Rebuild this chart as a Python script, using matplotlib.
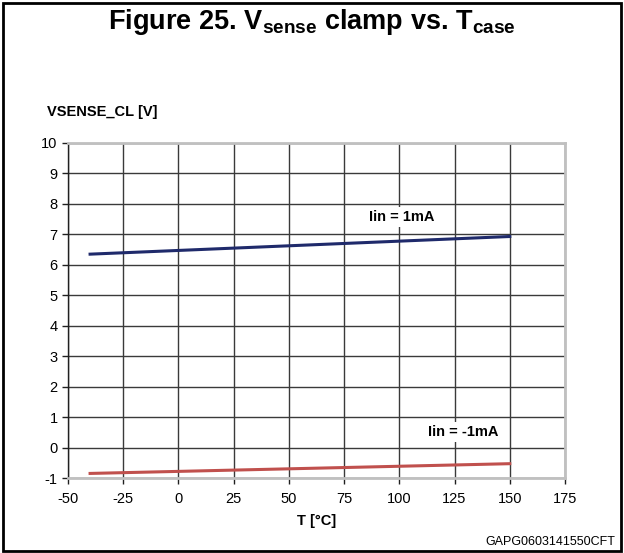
import matplotlib
matplotlib.use("Agg")
import matplotlib.pyplot as plt
from matplotlib.patches import Rectangle

plt.rcParams['font.family'] = ['Liberation Sans', 'DejaVu Sans']
plt.rcParams['axes.unicode_minus'] = False
plt.rcParams['mathtext.fontset'] = 'custom'
plt.rcParams['mathtext.rm'] = 'Liberation Sans'
plt.rcParams['mathtext.bf'] = 'Liberation Sans:bold'
plt.rcParams['mathtext.it'] = 'Liberation Sans:italic'

temp = [-40, 150]
v_pos = [6.35, 6.93]
v_neg = [-0.85, -0.53]
xticks = [-50, -25, 0, 25, 50, 75, 100, 125, 150, 175]
yticks = [-1, 0, 1, 2, 3, 4, 5, 6, 7, 8, 9, 10]

fig = plt.figure(figsize=(6.24, 5.53), dpi=100)
ax = fig.add_axes([68/624, 1-478/553, (565-68)/624, (478-143)/553])

ax.set_xlim(-50, 175)
ax.set_ylim(-1, 10)
ax.set_xticks(xticks)
ax.set_yticks(yticks)
ax.grid(True, color='#3a3a3a', linewidth=1.0)
ax.set_axisbelow(True)
for s in ['top', 'right', 'bottom']:
    ax.spines[s].set_color('#c0c0c0')
    ax.spines[s].set_linewidth(2)
ax.spines['left'].set_color('#202020')
ax.spines['left'].set_linewidth(1)
ax.tick_params(axis='both', labelsize=10.5, length=4, width=1, color='#202020', direction='out')
ax.tick_params(axis='x', pad=6)

ax.plot(temp, v_pos, color='#1f2a6b', linewidth=2.2)
ax.plot(temp, v_neg, color='#c0504d', linewidth=2.2)

ax.text(101, 7.57, 'Iin = 1mA', fontsize=10.5, fontweight='bold', ha='center', va='center',
        bbox=dict(facecolor='white', edgecolor='none', pad=2))
ax.text(129, 0.51, 'Iin = -1mA', fontsize=10.5, fontweight='bold', ha='center', va='center',
        bbox=dict(facecolor='white', edgecolor='none', pad=2))

ax.set_xlabel('T [°C]', fontsize=10.5, fontweight='bold', labelpad=6)
fig.text(47/624, 1-112/553, 'VSENSE_CL [V]', fontsize=10.5, fontweight='bold', ha='left', va='center')

fig.text(0.5, 1-22/553, r'Figure 25. V$_{\mathbf{sense}}$ clamp vs. T$_{\mathbf{case}}$',
         fontsize=19.5, fontweight='bold', ha='center', va='center')
fig.text(615/624, 1-542/553, 'GAPG0603141550CFT', fontsize=9, ha='right', va='center')

fig.patches.append(Rectangle((3/624, 2/553), 618/624, 548/553, transform=fig.transFigure,
                             fill=False, edgecolor='black', linewidth=2))

fig.savefig('out.png', dpi=100)
